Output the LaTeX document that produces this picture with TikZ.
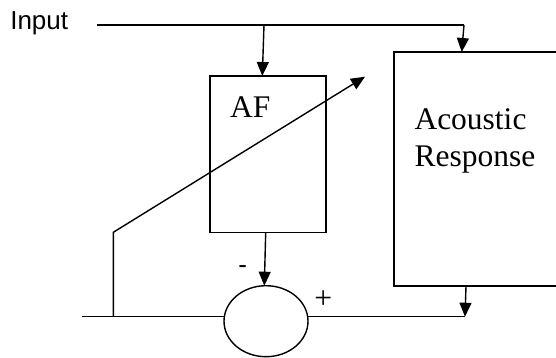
\documentclass[tikz,border=0pt]{standalone}
\usepackage{fontspec}
\setmainfont{Liberation Serif}
\newfontfamily\arialfont{Liberation Sans}
\usetikzlibrary{arrows.meta,shapes.geometric}
\begin{document}
\begin{tikzpicture}[x=1pt,y=-1pt,
  line width=1.4pt,
  every node/.style={inner sep=0pt,outer sep=0pt},
  box/.style={draw,rectangle},
  sumnode/.style={draw,ellipse},
  serifbig/.style={font=\fontsize{31.5}{36.7}\selectfont},
  sanslabel/.style={font=\arialfont\fontsize{26}{30}\selectfont},
  arr/.style={-{Triangle[length=14pt,width=12pt]}}]
\useasboundingbox (0,0) rectangle (556,358);
\clip (0,0) rectangle (556,358);
% blocks
\node[box,minimum width=116pt,minimum height=156.3pt] (af) at (268,154.15) {};
\node[box,minimum width=200pt,minimum height=234pt] (ar) at (494,169) {};
\node[sumnode,minimum width=84pt,minimum height=71pt] (sum) at (266,321.2) {};
% texts
\node[serifbig,anchor=base west] (aftext) at (230.2,117.3) {AF};
\node[serifbig,anchor=base west] (artext1) at (414.5,130) {Acoustic};
\node[serifbig,anchor=base west] (artext2) at (414.5,166.7) {Response};
\node[sanslabel,anchor=base west] (input) at (10.3,30) {Input};
\node[sanslabel,anchor=base] (minus) at (242.7,273.7) {-};
\node[serifbig,anchor=base] (plus) at (323.3,308.3) {+};
% coordinates
\coordinate (inStart) at (97,25);
\coordinate (jAF) at (264,25);
\coordinate (jAR) at (464,25);
\coordinate (lineL) at (81.7,316.7);
\coordinate (lineR) at (465,316.7);
\coordinate (kinkBase) at (113.3,316.7);
\coordinate (kink) at (113.3,232.3);
\coordinate (adaptTip) at (365,76.7);
% connectors
\draw (inStart) -- (jAR);
\draw[arr] (jAF) -- ([xshift=-5.7pt]af.north);
\draw[arr] (jAR) -- ([xshift=-32.3pt]ar.north);
\draw[arr] ([xshift=-2.3pt]af.south) -- ([xshift=-1.7pt]sum.north);
\draw (lineL) -- (lineL -| sum.west);
\draw (sum.east |- lineR) -- (lineR);
\draw[arr] ([xshift=-28pt]ar.south) -- (lineR);
\draw[arr] (kinkBase) -- (kink) -- (adaptTip);
\end{tikzpicture}
\end{document}
